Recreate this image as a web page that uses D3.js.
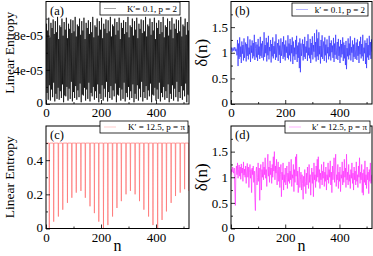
<!DOCTYPE html>
<html><head><meta charset="utf-8">
<script src="https://cdn.jsdelivr.net/npm/d3@7"></script>
<style>
body{margin:0;background:#fff}
svg{display:block}
text{font-family:"Liberation Serif","Times New Roman",serif;fill:#000}
</style>
</head><body>
<svg id="chart" width="373" height="256"></svg>
<script>
// ---------------- data ----------------
// n is sampled every 2 steps, from 0 to 520
const nStep = 2;
const xTicks = [0, 200, 400];
const xMinorTicks = [100, 300, 500];

// (a) linear entropy, k'=0.1, p=2 (values in units of 1e-5)
const entropyA_e5 = [
0.0,9.4,1.3,8.6,0.5,10.1,2.2,7.8,0.4,9.5,
1.7,8.9,0.8,9.9,2.5,8.2,0.3,9.7,1.2,8.4,
0.6,10.2,1.9,7.6,0.5,9.2,1.5,9.0,0.7,10.0,
2.3,8.0,0.2,9.6,1.0,8.7,0.9,10.1,2.0,7.7,
0.4,9.4,1.8,8.8,0.6,9.9,2.6,8.3,0.3,9.8,
1.4,8.5,0.7,10.2,2.1,7.9,0.5,9.3,1.6,9.1,
0.8,10.0,2.4,8.1,0.2,9.7,1.1,8.6,1.0,10.1,
1.9,7.6,0.4,9.5,1.7,8.9,0.6,9.8,2.5,8.2,
0.3,9.6,1.3,8.4,0.9,10.2,2.0,7.8,0.5,9.2,
1.5,9.0,0.7,10.0,2.3,8.0,0.2,9.7,1.2,8.7,
0.6,10.1,2.2,7.7,0.4,9.4,1.8,8.8,0.8,9.9,
2.6,8.3,0.3,9.8,1.4,8.5,0.7,10.2,2.1,7.9,
0.5,9.3,1.6,9.1,0.9,10.0,2.4,8.1,0.2,9.6,
1.1,8.6,1.0,10.1,1.9,7.6,0.4,9.5,1.7,8.9,
0.6,9.8,2.5,8.2,0.3,9.6,1.3,8.4,0.8,10.2,
2.0,7.8,0.5,9.2,1.5,9.0,0.7,10.0,2.3,8.0,
0.2,9.7,1.2,8.7,0.6,10.1,2.2,7.7,0.4,9.4,
1.8,8.8,0.8,9.9,2.6,8.3,0.3,9.8,1.4,8.5,
0.7,10.2,2.1,7.9,0.5,9.3,1.6,9.1,0.9,10.0,
2.4,8.1,0.2,9.6,1.1,8.6,1.0,10.1,1.9,7.6,
0.4,9.5,1.7,8.9,0.6,9.8,2.5,8.2,0.3,9.6,
1.3,8.4,0.8,10.2,2.0,7.8,0.5,9.2,1.5,9.0,
0.7,10.0,2.3,8.0,0.2,9.7,1.2,8.7,0.6,10.1,
2.2,7.7,0.4,9.4,1.8,8.8,0.8,9.9,2.6,8.3,
0.3,9.8,1.4,8.5,0.7,10.2,2.1,7.9,0.5,9.3,
1.6,9.1,0.9,10.0,2.4,8.1,0.2,9.6,1.1,8.6,
1.0];

// (b) delta(n), k'=0.1, p=2
const deltaB = [
1.05,1.10,1.02,1.08,1.10,1.04,1.07,1.11,1.03,1.08,
1.06,0.95,1.25,0.74,1.18,0.88,1.30,0.92,1.12,0.80,
1.22,0.98,1.15,0.85,1.28,0.90,1.05,1.20,0.83,1.17,
0.94,1.32,0.87,1.10,0.97,1.26,0.82,1.14,1.00,1.24,
0.89,1.19,0.93,1.35,0.86,1.08,1.21,0.91,1.16,0.84,
1.27,0.96,1.12,0.88,1.31,0.94,1.18,0.90,1.23,1.02,
0.85,1.40,0.92,1.15,0.99,1.29,0.83,1.20,0.95,1.33,
0.87,1.11,1.03,1.25,0.81,1.17,0.93,1.30,0.89,1.13,
0.98,1.22,0.86,1.36,0.91,1.09,1.19,0.84,1.26,0.96,
1.14,0.80,1.28,0.94,1.07,1.21,0.88,1.32,0.92,1.16,
0.85,1.24,1.00,1.12,0.90,1.34,0.87,1.18,0.95,1.27,
0.83,1.15,0.99,1.30,0.78,1.22,0.93,1.10,0.86,1.25,
0.97,1.33,0.82,1.14,0.90,1.20,0.70,1.28,0.62,1.18,
0.94,1.08,1.26,0.85,1.17,0.92,1.31,0.88,1.12,1.00,
1.23,0.84,1.36,0.95,1.10,0.89,1.27,0.80,1.19,0.96,
1.32,0.87,1.15,1.02,1.38,0.91,1.21,0.83,1.45,0.93,
1.28,0.86,1.40,0.97,1.13,0.79,1.25,0.92,1.34,0.88,
1.09,1.22,0.84,1.30,0.95,1.16,0.81,1.26,0.99,1.11,
0.87,1.33,0.93,1.19,0.85,1.24,1.01,1.14,0.90,1.29,
0.82,1.18,0.96,1.35,0.88,1.10,1.21,0.86,1.27,0.94,
1.12,0.80,1.25,0.91,1.17,0.97,1.30,0.84,1.20,0.89,
1.15,0.76,1.23,0.68,1.09,0.93,1.28,0.87,1.18,0.95,
1.32,0.85,1.11,1.00,1.24,0.82,1.16,0.92,1.29,0.88,
1.07,1.20,0.86,1.26,0.94,1.13,0.80,1.22,0.97,1.31,
0.89,1.17,0.93,1.35,0.84,1.10,0.99,1.24,0.78,1.19,
0.70,1.28,0.91,1.15,0.86,1.33,0.95,1.21,0.88,1.26,
1.02];

// (c) linear entropy, K'=12.5, p=pi: plateau with periodic dips
const plateauC = 0.5;
const dipN = [12,28,45,61,78,94,110,127,143,160,176,192,209,225,242,258,
              274,291,307,324,340,356,373,389,406,422,438,455,471,488,504,520];
const dipDepth = [0.00,0.04,0.07,0.11,0.15,0.18,0.21,0.22,0.18,0.13,0.09,0.04,
                  0.00,0.02,0.07,0.12,0.16,0.20,0.22,0.20,0.16,0.11,0.07,0.02,
                  0.00,0.05,0.10,0.15,0.19,0.21,0.23,0.22];

// (d) delta(n), K'=12.5, p=pi
const deltaD = [
1.05,1.15,1.10,1.20,1.12,1.08,1.18,0.75,0.45,1.10,
1.22,1.05,1.28,0.98,1.15,1.24,1.02,1.20,0.96,1.26,
1.08,1.18,0.92,1.30,1.04,1.16,1.00,1.22,0.88,1.12,
1.27,1.00,1.20,0.80,1.10,1.25,0.98,1.15,0.70,1.18,
1.05,1.22,0.90,1.12,0.60,0.35,1.08,1.20,0.85,1.00,
1.28,0.92,1.18,0.55,1.10,1.25,0.75,1.15,1.00,1.30,
0.95,1.20,1.05,1.38,0.98,1.15,0.82,1.28,1.45,1.02,
1.20,0.90,1.32,1.05,1.18,0.88,1.25,1.00,1.40,1.12,
1.50,0.95,1.22,1.08,1.35,0.85,1.15,1.30,0.92,1.20,
0.80,1.05,1.25,0.62,1.10,0.95,1.28,0.75,1.05,0.90,
1.18,0.85,1.00,1.22,0.78,1.08,0.92,1.30,0.88,1.12,
0.95,1.35,0.82,1.05,0.98,1.25,0.72,1.15,0.90,1.40,
1.02,1.45,0.85,1.12,0.70,1.00,1.20,0.80,0.95,1.10,
0.75,1.05,0.88,0.57,1.02,0.82,1.15,0.92,0.68,1.08,
0.85,1.20,0.95,0.78,1.25,0.90,1.05,0.65,1.00,1.18,
0.88,1.10,0.62,1.28,0.95,1.05,0.80,1.22,0.92,1.35,
1.00,1.40,0.90,1.15,0.78,1.08,0.95,1.25,0.85,1.12,
0.98,1.30,0.82,1.10,0.92,1.20,0.75,1.05,0.95,1.28,
0.88,1.15,1.00,1.32,0.85,1.10,0.70,1.22,0.95,1.08,
1.38,0.90,1.15,1.45,0.82,1.05,0.95,1.25,0.78,1.10,
0.92,1.20,0.72,1.05,0.98,1.30,0.85,1.12,0.90,1.35,
1.00,1.18,0.80,1.45,0.95,1.10,0.85,1.25,0.92,1.05,
0.78,1.15,0.98,1.28,0.88,1.08,0.75,1.20,0.95,1.12,
0.85,1.30,0.92,1.05,0.80,1.22,1.00,1.38,0.88,1.10,
0.95,1.25,0.70,1.08,0.65,1.15,0.90,1.32,0.85,1.05,
0.78,1.20,0.95,1.10,0.68,1.15,0.92,1.28,0.88,1.02,
1.05];

const legendLabels = ["K\u2032= 0.1,  p = 2", "k\u2032 = 0.1, p = 2",
                      "K\u2032 = 12.5, p = \u03c0", "k\u2032 = 12.5, p = \u03c0"];
const panelLetters = ["(a)", "(b)", "(c)", "(d)"];

// ---------------- build series ----------------
const seriesA = entropyA_e5.map((v, i) => [i * nStep, v * 1e-5]);
const seriesB = deltaB.map((v, i) => [i * nStep, v]);
const seriesD = deltaD.map((v, i) => [i * nStep, v]);
const seriesC = [[0, plateauC]];
dipN.forEach((n, i) => { seriesC.push([n - 1, plateauC], [n, dipDepth[i]], [n + 1, plateauC]); });
seriesC.push([522, plateauC]);

const expFmt = d => d === 0 ? "0" : d3.format(".0e")(d).replace(/e-(\d)$/, "e-0$1");

const panels = [
  {x0:46, x1:189, y0:1.5, y1:104, data:seriesA, color:"#000", width:0.7,
   yDomain:[0,1.2e-4], yTicks:[0,4e-5,8e-5], yMinor:[2e-5,6e-5,1e-4], yFmt:expFmt,
   ylabel:"Linear Entropy", ylabX:9, leg:{x:100,y:2,w:80,h:13}},
  {x0:231, x1:372, y0:1.5, y1:104, data:seriesB, color:"#3434ff", width:0.7,
   yDomain:[0,2], yTicks:[0,0.5,1,1.5], yMinor:[0.25,0.75,1.25,1.75], yFmt:d3.format("~g"),
   ylabel:"\u03b4(n)", ylabX:201, leg:{x:292,y:3,w:76,h:13}},
  {x0:46, x1:189, y0:126, y1:228.5, data:seriesC, color:"#ff7070", width:0.7,
   yDomain:[0,0.6], yTicks:[0,0.2,0.4], yMinor:[0.1,0.3,0.5], yFmt:d3.format("~g"),
   ylabel:"Linear Entropy", ylabX:9, xlabel:"n", leg:{x:100,y:121,w:88,h:12}},
  {x0:231, x1:372, y0:126, y1:228.5, data:seriesD, color:"#ff30ff", width:0.7,
   yDomain:[0,2], yTicks:[0,0.5,1,1.5], yMinor:[0.25,0.75,1.25,1.75], yFmt:d3.format("~g"),
   ylabel:"\u03b4(n)", ylabX:201, xlabel:"n", leg:{x:285,y:121,w:85,h:12}}
];

const svg = d3.select("#chart");
const defs = svg.append("defs");

panels.forEach((p, i) => {
  const x = d3.scaleLinear().domain([0, 520]).range([p.x0, p.x1]);
  const y = d3.scaleLinear().domain(p.yDomain).range([p.y1, p.y0]);
  const g = svg.append("g");

  defs.append("clipPath").attr("id", "clip" + i)
    .append("rect").attr("x", p.x0).attr("y", p.y0)
    .attr("width", p.x1 - p.x0).attr("height", p.y1 - p.y0);

  // data line
  g.append("path").datum(p.data)
    .attr("clip-path", "url(#clip" + i + ")")
    .attr("fill", "none").attr("stroke", p.color).attr("stroke-width", p.width)
    .attr("d", d3.line().x(d => x(d[0])).y(d => y(d[1])));

  // x axis (inward ticks)
  const xa = g.append("g").attr("transform", `translate(0,${p.y1})`)
    .call(d3.axisBottom(x).tickValues(xTicks).tickSizeInner(-4).tickSizeOuter(0).tickPadding(4));
  g.append("g").attr("transform", `translate(0,${p.y1})`)
    .call(d3.axisBottom(x).tickValues(xMinorTicks).tickSizeInner(-2).tickSizeOuter(0).tickFormat(""));
  // y axis
  const ya = g.append("g").attr("transform", `translate(${p.x0},0)`)
    .call(d3.axisLeft(y).tickValues(p.yTicks).tickFormat(p.yFmt).tickSizeInner(-4).tickSizeOuter(0).tickPadding(3));
  g.append("g").attr("transform", `translate(${p.x0},0)`)
    .call(d3.axisLeft(y).tickValues(p.yMinor).tickSizeInner(-2).tickSizeOuter(0).tickFormat(""));

  g.selectAll(".domain").remove();
  g.selectAll(".tick line").attr("stroke", "#000").attr("stroke-width", 0.8);
  xa.selectAll("text").style("font-family", "Liberation Serif").style("font-size", "13px").attr("fill", "#000");
  ya.selectAll("text").style("font-family", "Liberation Serif").style("font-size", "13px").attr("fill", "#000");
  ya.selectAll(".tick").filter(d => d === 0).select("text").attr("dy", "0.2em");

  // frame
  g.append("rect").attr("x", p.x0).attr("y", p.y0)
    .attr("width", p.x1 - p.x0).attr("height", p.y1 - p.y0)
    .attr("fill", "none").attr("stroke", "#000").attr("stroke-width", 1);

  // panel letter
  g.append("text").attr("x", p.x0 + 4).attr("y", p.y0 + 13)
    .style("font-size", "12.5px").text(panelLetters[i]);

  // legend
  const L = p.leg;
  g.append("rect").attr("x", L.x).attr("y", L.y).attr("width", L.w).attr("height", L.h)
    .attr("fill", "#fff").attr("stroke", "#000").attr("stroke-width", 0.8);
  g.append("line").attr("x1", L.x + 4).attr("x2", L.x + 16)
    .attr("y1", L.y + L.h / 2).attr("y2", L.y + L.h / 2)
    .attr("stroke", p.color).attr("stroke-width", 0.6).attr("opacity", 0.6);
  g.append("text").attr("x", L.x + L.w - 3).attr("y", L.y + L.h / 2 + 3)
    .attr("text-anchor", "end").style("font-size", "9px").text(legendLabels[i]);

  // y label
  g.append("text").attr("transform", `translate(${p.ylabX},${(p.y0 + p.y1) / 2}) rotate(-90)`)
    .attr("text-anchor", "middle").attr("dy", "0.35em")
    .style("font-size", p.ylabel === "Linear Entropy" ? "13.5px" : "17px").text(p.ylabel);

  // x label
  if (p.xlabel) {
    g.append("text").attr("x", (p.x0 + p.x1) / 2).attr("y", 251)
      .attr("text-anchor", "middle").style("font-size", "16px").text(p.xlabel);
  }
});
</script>
</body></html>
